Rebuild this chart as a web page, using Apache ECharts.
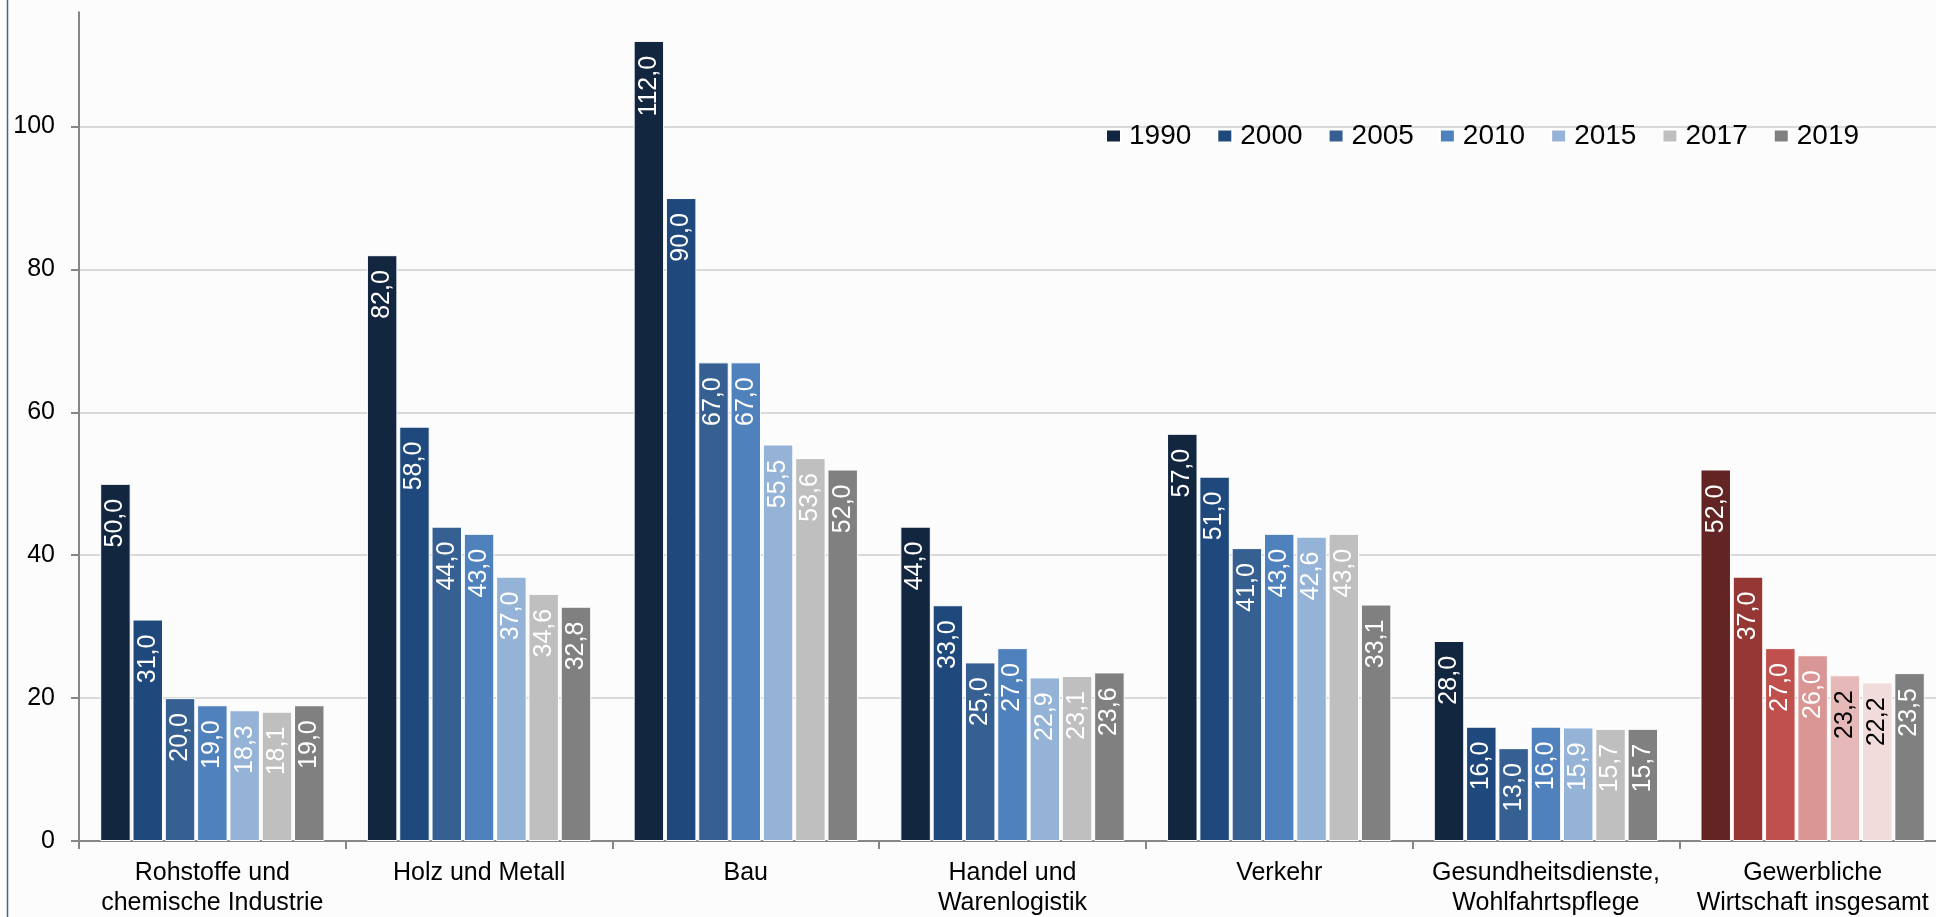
<!DOCTYPE html>
<html>
<head>
<meta charset="utf-8">
<style>
  html, body { margin: 0; padding: 0; background: #fcfcfc; }
  #chart { width: 1936px; height: 917px; }
</style>
<script src="https://cdn.jsdelivr.net/npm/echarts@6/dist/echarts.min.js"></script>
</head>
<body>
<div id="chart"></div>
<script>
// Branches (x-axis categories)
const categories = [
  'Rohstoffe und\nchemische Industrie',
  'Holz und Metall',
  'Bau',
  'Handel und\nWarenlogistik',
  'Verkehr',
  'Gesundheitsdienste,\nWohlfahrtspflege',
  'Gewerbliche\nWirtschaft insgesamt'
];

// Years shown as series
const years = ['1990', '2000', '2005', '2010', '2015', '2017', '2019'];

// Values per year, one entry per branch
const v1990 = [50.0, 82.0, 112.0, 44.0, 57.0, 28.0, 52.0];
const v2000 = [31.0, 58.0, 90.0, 33.0, 51.0, 16.0, 37.0];
const v2005 = [20.0, 44.0, 67.0, 25.0, 41.0, 13.0, 27.0];
const v2010 = [19.0, 43.0, 67.0, 27.0, 43.0, 16.0, 26.0];
const v2015 = [18.3, 37.0, 55.5, 22.9, 42.6, 15.9, 23.2];
const v2017 = [18.1, 34.6, 53.6, 23.1, 43.0, 15.7, 22.2];
const v2019 = [19.0, 32.8, 52.0, 23.6, 33.1, 15.7, 23.5];

// Y-axis tick values
const yTicks = [0, 20, 40, 60, 80, 100];

const seriesValues = [v1990, v2000, v2005, v2010, v2015, v2017, v2019];

// Colours: blue scale for the branches, red scale for the overall total
const blues = ['#12263f', '#1f497d', '#376092', '#4f81bd', '#95b3d7', '#bfbfbf', '#808080'];
const reds  = ['#632523', '#953735', '#c0504d', '#d99694', '#e6b9b8', '#f2dcdb', '#808080'];
const darkLabelOnTotal = [false, false, false, false, true, true, false];
const totalIndex = 6;

const FONT = '"Liberation Sans", Arial, sans-serif';

const fmt = v => v.toFixed(1).replace('.', ',');

const series = years.map((year, i) => ({
  name: year,
  type: 'bar',
  barCategoryGap: '15.9%',
  barGap: '6%',
  itemStyle: { color: blues[i], borderColor: '#ffffff', borderWidth: 1 },
  label: {
    show: true,
    position: 'insideTop',
    distance: 15,
    rotate: 90,
    align: 'right',
    verticalAlign: 'middle',
    color: '#ffffff',
    fontFamily: FONT,
    fontSize: 25,
    formatter: p => fmt(p.value)
  },
  data: seriesValues[i].map((val, j) => {
    const item = { value: val };
    if (j === totalIndex) {
      item.itemStyle = { color: reds[i] };
      if (darkLabelOnTotal[i]) item.label = { color: '#000000' };
    }
    return item;
  })
}));

const chart = echarts.init(document.getElementById('chart'), null, { renderer: 'canvas' });

chart.setOption({
  backgroundColor: '#fcfcfc',
  animation: false,
  textStyle: { fontFamily: FONT },
  grid: {
    left: 79,
    right: -10,
    top: 12.3,
    bottom: 76,
    containLabel: false,
    outerBoundsMode: 'none'
  },
  legend: {
    data: years,
    left: 1100,
    top: 117,
    icon: 'rect',
    itemWidth: 15,
    itemHeight: 13,
    itemGap: 25,
    textStyle: { fontFamily: FONT, fontSize: 28, color: '#000000', padding: [0, 0, 0, 3] }
  },
  xAxis: {
    type: 'category',
    data: categories,
    axisLine: { show: true, lineStyle: { color: '#868686', width: 2 } },
    axisTick: { show: true, alignWithLabel: false, length: 8, lineStyle: { color: '#868686', width: 2 } },
    axisLabel: {
      interval: 0,
      margin: 17,
      color: '#000000',
      fontFamily: FONT,
      fontSize: 25,
      lineHeight: 30
    },
    splitLine: { show: false }
  },
  yAxis: {
    type: 'value',
    min: 0,
    max: 116,
    interval: 20,
    axisLine: { show: true, lineStyle: { color: '#868686', width: 2 } },
    axisTick: { show: true, length: 8, customValues: yTicks, lineStyle: { color: '#868686', width: 2 } },
    axisLabel: {
      customValues: yTicks,
      margin: 24,
      color: '#000000',
      fontFamily: FONT,
      fontSize: 25
    },
    splitLine: { show: true, lineStyle: { color: '#d9d9d9', width: 2 } }
  },
  graphic: [{
    type: 'line',
    shape: { x1: 7.5, y1: 0, x2: 7.5, y2: 917 },
    style: { stroke: '#4c6385', lineWidth: 1.5 },
    silent: true
  }],
  series: series
});
</script>
</body>
</html>
